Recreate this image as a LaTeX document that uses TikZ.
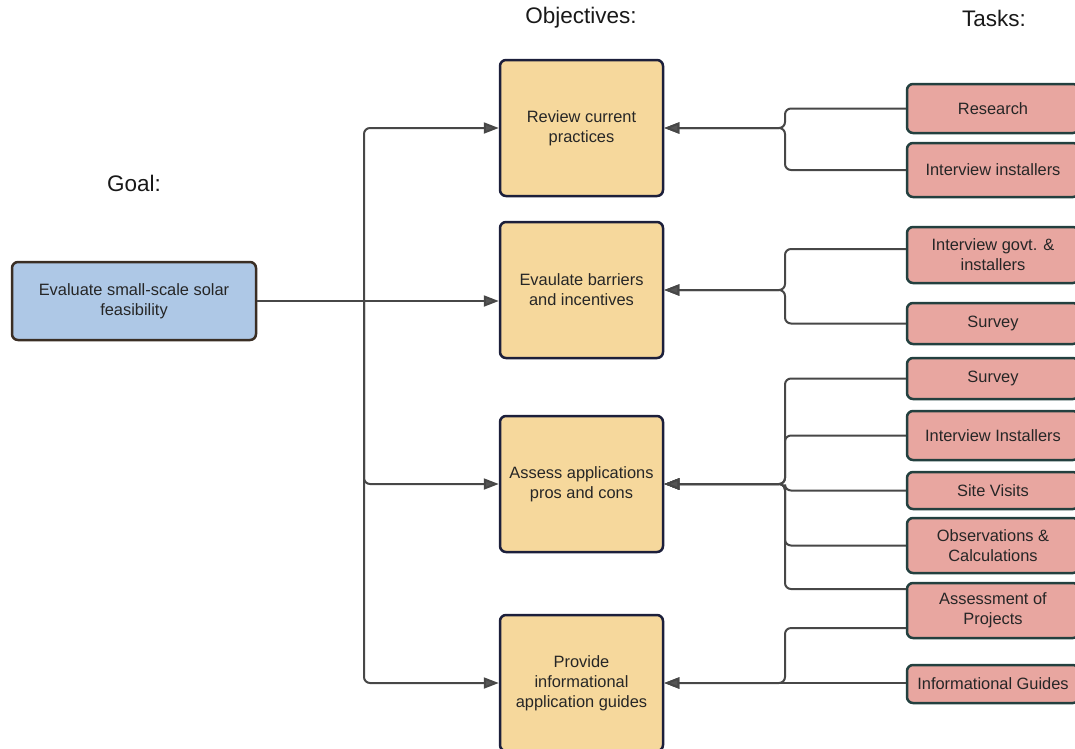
\documentclass[tikz,border=0pt]{standalone}
\usepackage{fontspec}
\setmainfont{Liberation Sans}
\usetikzlibrary{arrows.meta,calc}
\definecolor{goalfill}{HTML}{AEC8E6}
\definecolor{goaldraw}{HTML}{3A2E24}
\definecolor{objfill}{HTML}{F6D89C}
\definecolor{objdraw}{HTML}{1C1F3B}
\definecolor{taskfill}{HTML}{E8A6A0}
\definecolor{taskdraw}{HTML}{23403F}
\definecolor{linegray}{HTML}{474747}
\definecolor{tipgray}{HTML}{555555}
\definecolor{txt}{HTML}{262626}
\tikzset{
  boxtext/.style={align=center, text=txt, font=\fontsize{16.4}{20}\selectfont, inner sep=0pt},
  goalbox/.style={boxtext, draw=goaldraw, fill=goalfill, line width=2.5pt, rounded corners=6pt, minimum width=244pt, minimum height=78pt},
  objbox/.style={boxtext, draw=objdraw, fill=objfill, line width=2.5pt, rounded corners=6pt, minimum width=163pt, minimum height=136pt},
  taskbox/.style={boxtext, draw=taskdraw, fill=taskfill, line width=2.5pt, rounded corners=6pt, minimum width=172pt},
  header/.style={text=black!90, font=\fontsize{22.5}{26}\selectfont, inner sep=0pt},
  link/.style={draw=linegray, line width=2pt, rounded corners=6pt},
  arr/.style={link, -{Triangle[length=15pt,width=11pt,fill=tipgray]}},
}
\begin{document}
\begin{tikzpicture}[x=1pt,y=-1pt]
\useasboundingbox (0,0) rectangle (1075,748);
% headers
\node[header] (hobj) at (581,18) {Objectives:};
\node[header] (htask) at (994,18) {Tasks:};
\node[header] (hgoal) at (134,183) {Goal:};
% goal
\node[goalbox] (goal) at (134,301) {Evaluate small-scale solar\\feasibility};
% objectives
\node[objbox] (o1) at (581.5,128) {Review current\\practices};
\node[objbox] (o2) at (581.5,290) {Evaulate barriers\\and incentives};
\node[objbox] (o3) at (581.5,484) {Assess applications\\pros and cons};
\node[objbox] (o4) at (581.5,683) {Provide\\informational\\application guides};
% tasks
\node[taskbox, minimum height=49pt] (t1) at (993,108.5) {Research};
\node[taskbox, minimum height=54pt] (t2) at (993,170) {Interview installers};
\node[taskbox, minimum height=56pt] (t3) at (993,255) {Interview govt. \&\\installers};
\node[taskbox, minimum height=41pt] (t4) at (993,323.5) {Survey};
\node[taskbox, minimum height=41pt] (t5) at (993,378.5) {Survey};
\node[taskbox, minimum height=49pt] (t6) at (993,435.5) {Interview Installers};
\node[taskbox, minimum height=37pt] (t7) at (993,490.5) {Site Visits};
\node[taskbox, minimum height=55pt] (t8) at (993,545.5) {Observations \&\\Calculations};
\node[taskbox, minimum height=55pt] (t9) at (993,610.5) {Assessment of\\Projects};
\node[taskbox, minimum height=38pt] (t10) at (993,684) {Informational Guides};
% bus coordinates
\coordinate (lb) at (364,302);
\coordinate (rb) at (785,0);
% left side
\draw[arr] (goal.east) -- (goal.east -| o2.west);
\draw[arr] (lb) |- (o1.west);
\draw[arr] (lb) |- (o3.west);
\draw[arr] (lb) |- (o4.west);
% right side
\draw[arr] (t1.west) -| (rb |- o1.east) -- (o1.east);
\draw[arr] (t2.west) -| (rb |- o1.east) -- (o1.east);
\draw[arr] ([yshift=6pt]t3.west) -| (rb |- o2.east) -- (o2.east);
\draw[arr] (t4.west) -| (rb |- o2.east) -- (o2.east);
\draw[arr] (t5.west) -| (rb |- o3.east) -- (o3.east);
\draw[arr] (t6.west) -| (rb |- o3.east) -- (o3.east);
\draw[arr] (t7.west) -| (rb |- o3.east) -- (o3.east);
\draw[arr] (t8.west) -| (rb |- o3.east) -- (o3.east);
\draw[arr] ([yshift=21.5pt]t9.west) -| (rb |- o3.east) -- (o3.east);
\draw[arr] ([yshift=-17.5pt]t9.west) -| (rb |- o4.east) -- (o4.east);
\draw[arr] (t10.west |- o4.east) -- (o4.east);
\end{tikzpicture}
\end{document}
